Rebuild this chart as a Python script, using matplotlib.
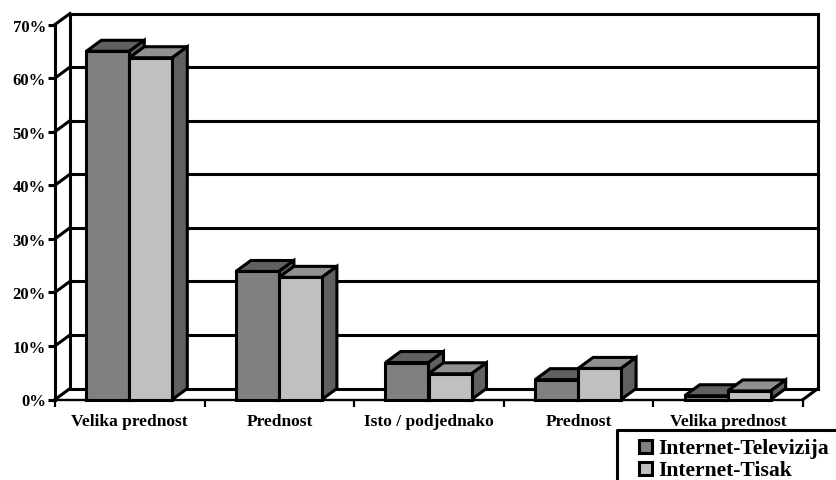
import matplotlib
matplotlib.use('Agg')
import matplotlib.pyplot as plt
from matplotlib.patches import Polygon, Rectangle

plt.rcParams['font.family'] = ['Liberation Serif', 'DejaVu Serif']
plt.rcParams['font.weight'] = 'bold'

categories = ['Velika prednost', 'Prednost', 'Isto / podjednako', 'Prednost', 'Velika prednost']
televizija = [65, 23.9, 6.9, 3.7, 0.7]
tisak = [63.8, 22.8, 4.8, 5.8, 1.6]
y_ticks = [0, 10, 20, 30, 40, 50, 60, 70]
series_names = ['Internet-Televizija', 'Internet-Tisak']

W, H = 836, 481
LW = 2.2
# depth of the fake 3d box, in data units (15px right, 11px up)
DX = 15 / 149.6
DY = 11 / (375 / 70)
BAR_W = 43 / 149.6
NUDGE = 0.5 / 149.6

fig = plt.figure(figsize=(W / 100, H / 100), dpi=100)
ax = fig.add_axes([55 / W, 1 - 400.5 / H, 748 / W, 375 / H])
ax.set_xlim(0, 5)
ax.set_ylim(0, 70)
ax.patch.set_visible(False)


def line(xs, ys, z=2):
    ax.plot(xs, ys, color='black', lw=LW, clip_on=False, zorder=z, solid_capstyle='projecting')


# walls and gridlines
for t in y_ticks:
    line([0, DX], [t, t + DY])
    line([DX, 5 + DX], [t + DY, t + DY])
line([DX, DX], [DY, 70 + DY])
line([5 + DX, 5 + DX], [DY, 70 + DY])
line([5, 5 + DX], [0, DY])


def bar(x, value, front, top, side, z):
    pts = dict(fc=top, ec='black', lw=LW, clip_on=False, zorder=z, joinstyle='miter')
    ax.add_patch(Polygon([(x, value), (x + BAR_W, value), (x + BAR_W + DX, value + DY), (x + DX, value + DY)], **pts))
    pts['fc'] = side
    ax.add_patch(Polygon([(x + BAR_W, 0), (x + BAR_W + DX, DY), (x + BAR_W + DX, value + DY), (x + BAR_W, value)], **pts))
    ax.add_patch(Rectangle((x, 0), BAR_W, value, fc=front, ec='black', lw=LW, clip_on=False, zorder=z, joinstyle='miter'))


for i in range(len(categories)):
    c = i + 0.5 - NUDGE
    bar(c - BAR_W, televizija[i], '#808080', '#606060', '#606060', 3 + i)
    bar(c, tisak[i], '#C0C0C0', '#909090', '#606060', 3.5 + i)

for s in ['top', 'right']:
    ax.spines[s].set_visible(False)
ax.spines['left'].set_linewidth(LW)
ax.spines['left'].set_zorder(2.5)
ax.spines['bottom'].set_linewidth(1.7)
ax.spines['bottom'].set_zorder(2.5)

ax.set_yticks(y_ticks)
ax.set_yticklabels([f'{t}%' for t in y_ticks], fontsize=12, fontweight='bold')
ax.tick_params(axis='y', length=5, width=LW, pad=1.5)
ax.set_xticks(range(6))
ax.set_xticklabels([])
ax.tick_params(axis='x', which='major', length=5, width=1.6)
ax.set_xticks([i + 0.5 for i in range(5)], minor=True)
ax.set_xticklabels(categories, minor=True, fontsize=12.5, fontweight='bold')
ax.tick_params(axis='x', which='minor', length=0, pad=9.5)

# legend box runs off the right and bottom edge of the picture
lg = fig.add_axes([0, 0, 1, 1])
lg.set_xlim(0, W)
lg.set_ylim(H, 0)
lg.axis('off')
lg.plot([617, 617, W], [H, 430.5, 430.5], color='black', lw=LW)
swatches = ['#808080', '#C0C0C0']
for name, col, y in zip(series_names, swatches, [447, 469]):
    lg.add_patch(Rectangle((639, y - 6.5), 13, 13, fc=col, ec='black', lw=LW))
    lg.text(658, y, name, fontsize=15.6, fontweight='bold', va='center_baseline', ha='left')

fig.savefig('out.png', dpi=100)
